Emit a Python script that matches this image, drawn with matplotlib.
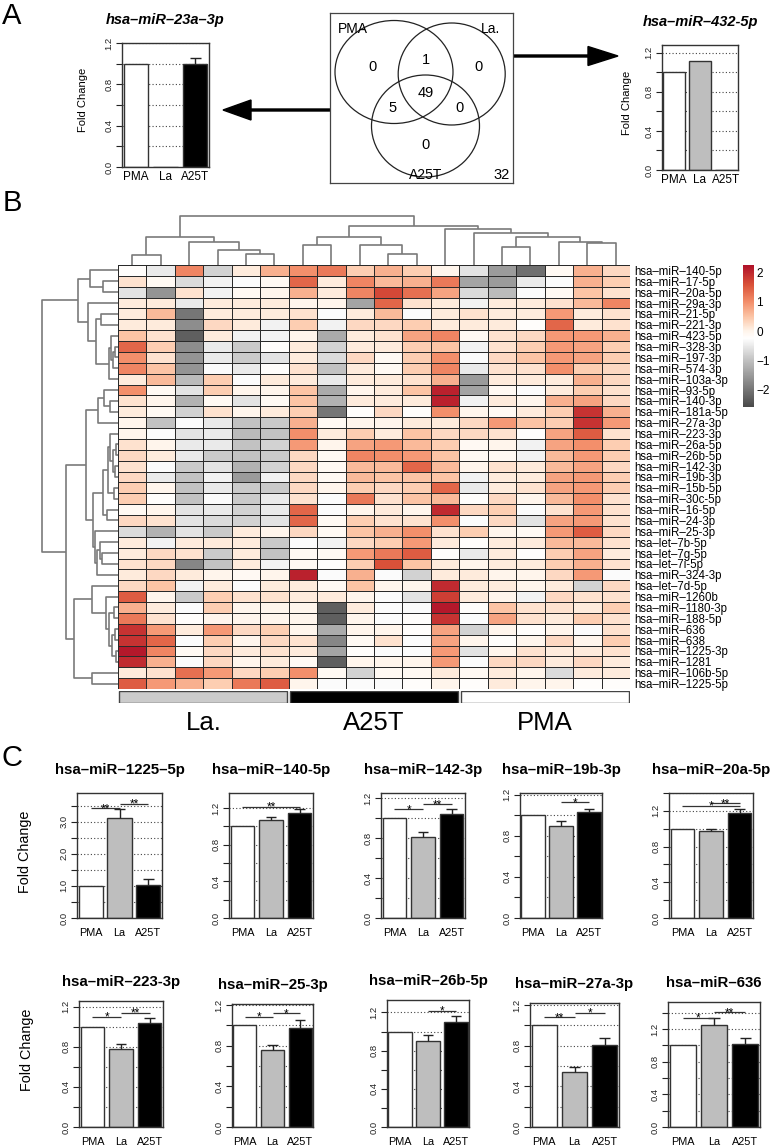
import numpy as np
import matplotlib
matplotlib.use('Agg')
import matplotlib.pyplot as plt
from matplotlib.colors import LinearSegmentedColormap, Normalize
from matplotlib.patches import Ellipse, FancyArrow

plt.rcParams['font.family'] = ['Liberation Sans', 'DejaVu Sans']

# ---------------- data ----------------
groups = ['PMA', 'La', 'A25T']

# panel A bar charts
a_titles = ['hsa–miR–23a–3p', 'hsa–miR–432-5p']
a_means = [[1.0, 0.0, 1.0], [1.0, 1.12, 0.0]]
a_errs = [[0.0, 0.0, 0.05], [0.0, 0.0, 0.0]]
a_ymax = [1.2, 1.28]

# venn: PMA only, La only, A25T only, PMA&La, PMA&A25T, La&A25T, all three
venn_sets = ['PMA', 'La.', 'A25T']
venn_counts = [0, 0, 0, 1, 5, 0, 49]
venn_outside = 32

# panel B heatmap
row_labels = ['hsa–miR–140-5p', 'hsa–miR–17-5p', 'hsa–miR–20a-5p', 'hsa–miR–29a-3p',
              'hsa–miR–21-5p', 'hsa–miR–221-3p', 'hsa–miR–423-5p', 'hsa–miR–328-3p',
              'hsa–miR–197-3p', 'hsa–miR–574-3p', 'hsa–miR–103a-3p', 'hsa–miR–93-5p',
              'hsa–miR–140-3p', 'hsa–miR–181a-5p', 'hsa–miR–27a-3p', 'hsa–miR–223-3p',
              'hsa–miR–26a-5p', 'hsa–miR–26b-5p', 'hsa–miR–142-3p', 'hsa–miR–19b-3p',
              'hsa–miR–15b-5p', 'hsa–miR–30c-5p', 'hsa–miR–16-5p', 'hsa–miR–24-3p',
              'hsa–miR–25-3p', 'hsa–let–7b-5p', 'hsa–let–7g-5p', 'hsa–let–7i-5p',
              'hsa–miR–324-3p', 'hsa–let–7d-5p', 'hsa–miR–1260b', 'hsa–miR–1180-3p',
              'hsa–miR–188-5p', 'hsa–miR–636', 'hsa–miR–638', 'hsa–miR–1225-3p',
              'hsa–miR–1281', 'hsa–miR–106b-5p', 'hsa–miR–1225-5p']
col_groups = ['La.'] * 6 + ['A25T'] * 6 + ['PMA'] * 6
heat_values = [
    [-0.2, -0.5, 1.1, -0.8, 0.1, 0.7, 1.0, 1.2, 0.4, 0.7, 0.4, 0.0, -0.6, -1.5, -2.1, -0.1, 0.7, 0.3],
    [0.2, -0.1, -0.7, -0.4, -0.3, -0.1, 1.4, 0.1, 1.1, 0.6, 0.7, 1.2, -1.4, -1.5, -0.5, -0.3, 0.7, 0.4],
    [-0.6, -1.6, 0.2, -0.4, -0.1, 0.0, 0.7, 0.1, 1.1, 1.7, 1.3, 0.8, -0.7, -1.1, -0.3, -0.1, 0.5, 0.2],
    [0.1, 0.1, -0.5, 0.1, 0.1, 0.1, 0.0, 0.0, -1.4, 1.4, 0.2, 0.1, -0.4, 0.1, 0.1, 0.2, 0.6, 1.1],
    [0.1, 0.6, -2.0, 0.1, 0.1, 0.1, 0.2, -0.3, 0.1, 0.6, -0.3, 0.1, 0.2, 0.1, 0.1, 0.9, 0.1, 0.2],
    [0.1, 0.1, -1.7, 0.3, 0.1, -0.4, 0.4, -0.4, 0.3, 0.3, 0.4, 0.1, 0.1, 0.1, -0.2, 1.4, 0.1, 0.2],
    [0.5, 0.2, -2.3, 0.1, -0.4, -0.4, 0.0, -1.3, 0.1, 0.2, 0.8, 1.1, -0.1, 0.2, 0.3, 0.9, 0.9, 0.7],
    [1.4, 0.4, -1.7, -0.5, -0.9, -0.2, 0.1, -0.8, 0.1, 0.1, 0.4, 0.5, -0.4, 0.2, 0.4, 0.9, 0.8, 0.4],
    [1.0, 0.2, -1.6, -0.5, -0.9, -0.6, 0.1, -0.7, 0.3, -0.1, 0.4, 1.0, -0.3, 0.3, 0.5, 0.9, 0.8, 0.4],
    [1.1, 0.5, -1.6, -0.3, -0.5, -0.2, 0.2, -1.0, 0.1, -0.1, 0.4, 1.1, -0.5, 0.2, 0.2, 1.0, 0.4, 0.3],
    [0.1, 0.6, -1.1, 0.4, -0.3, 0.1, 0.1, -0.5, 0.1, 0.1, 0.2, 0.7, -1.5, 0.1, 0.1, 0.1, 0.7, 0.3],
    [1.0, -0.1, -0.6, 0.4, 0.0, 0.0, 0.5, -1.3, 0.0, 0.1, 0.5, 2.1, -1.4, -0.1, -0.3, 0.1, 0.4, 0.2],
    [0.2, 0.0, -1.2, -0.1, -0.6, -0.1, 0.5, -1.2, 0.1, 0.1, 0.1, 2.1, -0.4, 0.1, 0.0, 0.7, 0.8, 0.3],
    [0.1, -0.1, -0.8, 0.2, 0.0, 0.1, 0.4, -2.0, -0.2, 0.3, -0.2, 1.0, 0.0, -0.1, 0.1, 0.4, 1.9, 0.7],
    [0.0, -1.0, -0.3, -0.5, -1.0, -0.9, 0.7, -0.1, 0.0, 0.0, 0.1, 0.1, 0.3, 0.9, 0.5, 0.4, 1.9, 0.9],
    [0.0, -0.3, -0.6, -0.5, -1.1, -1.0, 1.0, 0.1, 0.4, 0.1, 0.5, 0.3, 0.3, 0.2, -0.2, 0.8, 1.5, 0.2],
    [0.2, 0.0, -0.5, -0.5, -1.0, -0.8, 0.9, 0.0, 0.8, 0.9, 0.6, 0.4, -0.1, 0.0, -0.4, 0.8, 1.0, 0.4],
    [0.3, 0.1, -0.5, -0.9, -1.0, -0.9, 0.3, -0.1, 1.1, 1.0, 0.9, 0.5, -0.1, -0.1, -0.4, 0.6, 0.9, 0.4],
    [0.2, -0.3, -0.9, -0.6, -1.2, -0.8, 0.3, -0.1, 0.6, 0.6, 1.4, 0.6, 0.0, 0.2, 0.1, 0.6, 0.8, 0.3],
    [0.3, -0.5, -1.0, -0.4, -1.5, -0.4, 0.3, -0.1, 0.6, 0.5, 0.5, 0.5, -0.4, 0.1, 0.1, 0.8, 0.9, 0.4],
    [0.4, 0.0, -1.0, -0.5, -0.9, -0.9, 0.3, 0.0, 0.4, 0.3, 0.4, 1.4, -0.5, 0.1, 0.2, 0.8, 0.9, 0.4],
    [0.4, -0.2, -1.0, -0.3, -0.9, -0.5, 0.2, -0.3, 1.2, 0.2, 0.5, 0.6, -0.2, 0.3, 0.0, 0.6, 1.0, 0.2],
    [-0.1, 0.0, -0.6, -0.5, -0.8, -0.5, 1.4, -0.3, 0.0, 0.1, 0.0, 2.0, 0.3, 0.4, -0.3, 0.2, 0.9, 0.2],
    [0.3, 0.2, -0.6, -0.7, -0.8, -0.6, 1.4, -0.1, 0.4, 0.2, 0.2, 1.0, -0.3, 0.3, -0.6, 0.8, 0.9, 0.2],
    [-0.7, -1.2, -0.6, -0.9, 0.1, 0.0, 0.3, -0.1, 0.5, 0.7, 1.0, 0.2, 0.4, 0.0, -0.1, 0.9, 1.5, 0.3],
    [0.1, -0.4, 0.1, 0.1, 0.1, -0.9, -0.3, -0.4, 0.3, 0.4, 0.9, 0.1, -0.2, 0.1, 0.1, 0.6, 0.6, 0.2],
    [0.1, 0.3, 0.2, -0.9, 0.1, -1.0, -0.1, -0.1, 0.9, 1.2, 1.5, -0.2, -0.5, 0.1, -0.2, 0.4, 0.8, 0.1],
    [0.2, 0.3, -1.8, -1.0, 0.1, -0.4, -0.1, -0.2, 0.4, 1.6, 0.5, 0.1, 0.0, 0.1, 0.1, 0.4, 0.7, 0.2],
    [0.1, 0.3, 0.1, 0.0, -0.1, 0.0, 2.1, -0.3, 0.7, -0.3, -0.8, 0.1, 0.1, 0.0, 0.0, 0.3, 0.9, -0.3],
    [0.3, 0.5, -0.4, 0.1, -0.3, 0.1, 0.1, -0.1, 0.5, 0.0, 0.0, 2.0, 0.1, 0.1, 0.0, 0.1, -0.8, 0.3],
    [1.5, 0.0, -0.9, 0.4, 0.2, 0.2, 0.1, 0.1, 0.0, -0.3, -0.6, 1.8, 0.1, 0.0, -0.4, 0.3, 0.2, 0.2],
    [0.7, 0.1, -0.3, 0.4, 0.0, 0.0, 0.0, -2.3, 0.1, -0.3, -0.3, 2.2, -0.2, 0.5, 0.2, 0.2, 0.1, 0.4],
    [1.2, 0.2, -0.2, 0.0, 0.0, 0.0, 0.0, -2.3, 0.0, -0.3, -0.2, 1.9, -0.3, 0.8, 0.2, 0.1, 0.4, 0.2],
    [1.9, 0.9, 0.1, 0.9, 0.3, 0.4, 0.0, -1.3, 0.0, 0.0, -0.2, 0.8, -0.8, 0.0, -0.2, 0.0, -0.3, 0.2],
    [1.9, 1.4, -0.3, 0.4, 0.0, 0.3, 0.2, -1.8, -0.1, 0.2, -0.3, 0.8, 0.0, -0.2, 0.0, 0.3, 0.0, 0.4],
    [2.2, 1.1, -0.1, 0.3, 0.1, 0.2, 0.1, -1.4, -0.2, -0.3, -0.3, 0.9, -0.6, 0.0, 0.2, 0.1, 0.1, 0.2],
    [2.0, 0.7, -0.3, 0.3, 0.0, 0.1, -0.1, -2.3, 0.0, 0.0, 0.0, 0.9, -0.3, 0.3, 0.3, 0.1, 0.3, 0.1],
    [0.1, 0.2, 1.3, 0.9, 0.3, 0.4, 1.0, -0.1, -0.8, -0.1, -0.1, 0.1, -0.1, 0.1, 0.0, -0.7, 0.1, 0.1],
    [1.5, 0.9, 0.7, 0.4, 1.2, 1.5, 0.0, -0.3, -0.3, -0.3, -0.2, 0.0, -0.2, 0.1, 0.0, 0.0, -0.2, -0.2],
]

# dendrograms: (merge height, left, right), leaves are row/column indices
col_tree = (49,
            (28, (10, 0, 1), (23, 2, (15, 3, (11, 4, 5)))),
            (39,
             (28, (20, 6, 7), (20, 8, (11, 9, 10))),
             (36, 11, (32, 12, (28, (18, 13, 14), (23, 15, (22, 16, 17)))))))
row_tree = (76,
            (40, (28, 0, (15, 1, 2)),
                 (30, 3, (22, (17, 4, 5), (9, (7, 6, (5, (3, 7, 8), 9)), 10)))),
            (52,
             (32, (20, (14, 11, (8, 12, 13)), 14),
                  (25, (15, (10, (8, 15, (5, (2, 16, 17), (3, 18, 19))), (4, 20, 21)), (11, 22, 23)),
                       (23, 24, (21, (18, 25, (16, 26, 27)), 28)))),
             (44, (26, 29, (12, 30, (9, (4, 31, 32), (6, (3, 33, 34), (2, 35, 36))))),
                  (26, 37, 38))))

# panel C bar charts
c_titles = ['hsa–miR–1225–5p', 'hsa–miR–140-5p', 'hsa–miR–142-3p', 'hsa–miR–19b-3p',
            'hsa–miR–20a-5p', 'hsa–miR–223-3p', 'hsa–miR–25-3p', 'hsa–miR–26b-5p',
            'hsa–miR–27a-3p', 'hsa–miR–636']
c_means = [[1.0, 3.10, 1.02], [1.0, 1.076, 1.145], [1.0, 0.81, 1.04], [1.0, 0.897, 1.028],
           [1.0, 0.975, 1.177], [1.0, 0.777, 1.033], [1.0, 0.759, 0.974], [1.0, 0.90, 1.10],
           [1.0, 0.54, 0.806], [1.0, 1.253, 1.018]]
c_errs = [[0, 0.29, 0.19], [0, 0.025, 0.045], [0, 0.05, 0.05], [0, 0.043, 0.032],
          [0, 0.02, 0.045], [0, 0.05, 0.057], [0, 0.051, 0.079], [0, 0.06, 0.06],
          [0, 0.05, 0.072], [0, 0.082, 0.07]]
c_ymax = [3.89, 1.366, 1.253, 1.217, 1.40, 1.257, 1.21, 1.33, 1.22, 1.532]
c_step = [0.5, 0.2, 0.2, 0.2, 0.2, 0.2, 0.2, 0.2, 0.2, 0.2]
# significance bars: (from group, to group, height, stars)
c_sig = [
    [(0, 1, 3.42, '**'), (1, 2, 3.55, '**')],
    [(0, 2, 1.217, '**')],
    [(0, 1, 1.093, '*'), (1, 2, 1.14, '**')],
    [(1, 2, 1.125, '*')],
    [(0, 2, 1.256, '*'), (1, 2, 1.287, '**')],
    [(0, 1, 1.10, '*'), (1, 2, 1.14, '**')],
    [(0, 1, 1.085, '*'), (1, 2, 1.12, '*')],
    [(1, 2, 1.22, '*')],
    [(0, 1, 1.08, '**'), (1, 2, 1.124, '*')],
    [(0, 1, 1.342, '*'), (1, 2, 1.404, '**')],
]

# ---------------- figure ----------------
W, H = 772, 1147
fig = plt.figure(figsize=(W / 100, H / 100), dpi=100)


def px_axes(left, top, width, height):
    return fig.add_axes([left / W, 1 - (top + height) / H, width / W, height / H])


# overlay in pixel units for letters, arrows, free labels
ov = px_axes(0, 0, W, H)
ov.set_xlim(0, W)
ov.set_ylim(H, 0)
ov.axis('off')

bar_colors = ['white', '#bebebe', 'black']


def fold_change(ax, title, means, errs, ymax, step, sig, title_off, fs_title,
                fs_tick, fs_x, xpad, italic=False):
    x = np.array([0.7, 1.9, 3.1])
    ticks = np.round(np.arange(0, ymax + 1e-9, step), 6)
    # dotted guide lines behind bars
    for lv in ticks[1:]:
        ax.axhline(lv, color='#444444', ls=(0, (1, 2)), lw=0.8, zorder=0)
    ax.bar(x, means, width=1.0, color=bar_colors, edgecolor='#333333', lw=1, zorder=2)
    for xi, m, e in zip(x, means, errs):
        if e > 0:
            ax.vlines(xi, m, m + e, color='#222222', lw=1, zorder=3)
            ax.hlines(m + e, xi - 0.22, xi + 0.22, color='#222222', lw=1, zorder=3)
    for i, j, y, stars in sig:
        ax.hlines(y, x[i], x[j], color='#333333', lw=0.9, zorder=3)
        ax.annotate(stars, xy=((x[i] + x[j]) / 2, y), xytext=(0, -4),
                    textcoords='offset pixels', ha='center', va='baseline',
                    fontsize=8.5, zorder=4)
    ax.set_xlim(0.136, 3.664)
    ax.set_ylim(0, ymax)
    ax.set_yticks(ticks)
    ax.set_yticklabels([f'{t:.1f}' if k % 2 == 0 else '' for k, t in enumerate(ticks)],
                       rotation=90, va='center', fontsize=fs_tick)
    ax.set_xticks(x)
    ax.set_xticklabels(groups, fontsize=fs_x)
    ax.tick_params(axis='x', length=0, pad=xpad)
    ax.tick_params(axis='y', direction='out', length=4, width=0.8, pad=2, colors='#222222')
    for s in ax.spines.values():
        s.set_color('#333333')
        s.set_linewidth(1)
    ax.annotate(title, xy=(0.5, 1), xycoords='axes fraction', xytext=(0, title_off),
                textcoords='offset pixels', ha='center', va='center', fontsize=fs_title,
                fontweight='bold', fontstyle='italic' if italic else 'normal')


# ---- panel A ----
ov.text(12, 16, 'A', fontsize=21, ha='center', va='center')
a_boxes = [(122, 43, 87, 124), (662, 45, 76, 125)]
for k in range(2):
    ax = px_axes(*a_boxes[k])
    fold_change(ax, a_titles[k], a_means[k], a_errs[k], a_ymax[k], 0.2, [],
                23, 10.5, 6.8, 8.5, 3, italic=True)
ov.text(83, 100, 'Fold Change', rotation=90, ha='center', va='center', fontsize=8)
ov.text(627, 103, 'Fold Change', rotation=90, ha='center', va='center', fontsize=8)

# venn diagram
vax = px_axes(330, 13, 183, 170)
vax.set_xlim(0, 183)
vax.set_ylim(170, 0)
vax.set_xticks([])
vax.set_yticks([])
for s in vax.spines.values():
    s.set_color('#444444')
    s.set_linewidth(0.9)
circles = [(64, 59, 118, 103), (121.7, 61, 107, 102), (95.5, 113, 108, 102)]
for cx, cy, w, h in circles:
    vax.add_patch(Ellipse((cx, cy), w, h, fill=False, ec='#222222', lw=0.9))
set_pos = [(23, 16), (160, 16), (96, 162)]
for name, (tx, ty) in zip(venn_sets, set_pos):
    vax.text(tx, ty, name, ha='center', va='center', fontsize=10)
region_pos = [(42.7, 53.7), (148.3, 53.7), (96, 132), (96, 47), (62.7, 95.3),
              (130, 95.3), (96, 80.3)]
for cnt, (tx, ty) in zip(venn_counts, region_pos):
    vax.text(tx, ty, str(cnt), ha='center', va='center', fontsize=10.5)
vax.text(171.7, 162, str(venn_outside), ha='center', va='center', fontsize=10.5)

# arrows linking venn regions to the bar charts
ov.plot([330, 385], [110, 110], color='black', lw=2.5, ls=(0, (3, 2)))
ov.add_patch(FancyArrow(330, 110, -107, 0, width=2, head_width=20, head_length=28,
                        length_includes_head=True, color='black'))
ov.plot([440, 513], [56, 56], color='black', lw=2.5, ls=(0, (3, 2)))
ov.add_patch(FancyArrow(513, 56, 105, 0, width=2, head_width=19, head_length=30,
                        length_includes_head=True, color='black'))

# ---- panel B ----
ov.text(12, 203, 'B', fontsize=21, ha='center', va='center')
vals = np.array(heat_values)
nrow, ncol = vals.shape
vmin, vmax = -2.6, 2.26
nodes = [-2.6, -1.0, -0.25, 0.0, 0.5, 1.0, 1.6, 2.26]
node_cols = ['#4a4a4a', '#c2c2c2', '#ffffff', '#fff5eb', '#fcc5a6', '#f38f6b',
             '#da5239', '#b0122a']
cmap = LinearSegmentedColormap.from_list(
    'hm', [((v - vmin) / (vmax - vmin), c) for v, c in zip(nodes, node_cols)])
norm = Normalize(vmin, vmax)

hax = px_axes(118, 265, 512, 424)
hax.pcolormesh(np.arange(ncol + 1), np.arange(nrow + 1), vals, cmap=cmap, norm=norm,
               edgecolors='#2a2a2a', linewidth=0.7)
hax.set_xlim(0, ncol)
hax.set_ylim(nrow, 0)
hax.set_xticks([])
hax.set_yticks(np.arange(nrow) + 0.5)
hax.set_yticklabels(row_labels, fontsize=8.3)
hax.yaxis.tick_right()
hax.tick_params(axis='y', length=0, pad=3)
for s in hax.spines.values():
    s.set_visible(False)


def draw_tree(ax, node, top):
    if isinstance(node, int):
        return node + 0.5, 0
    h, a, b = node
    pa, ha = draw_tree(ax, a, top)
    pb, hb = draw_tree(ax, b, top)
    pos = [pa, pa, pb, pb]
    hts = [ha, h, h, hb]
    if top:
        ax.plot(pos, hts, color='#7a7a7a', lw=1.2, solid_capstyle='butt')
    else:
        ax.plot(hts, pos, color='#7a7a7a', lw=1.2, solid_capstyle='butt')
    return (pa + pb) / 2, h


cdax = px_axes(118, 214, 512, 51)
draw_tree(cdax, col_tree, True)
cdax.set_xlim(0, ncol)
cdax.set_ylim(0, 51)
cdax.axis('off')

rdax = px_axes(40, 265, 78, 424)
draw_tree(rdax, row_tree, False)
rdax.set_xlim(78, 0)
rdax.set_ylim(nrow, 0)
rdax.axis('off')

# colour key
cbax = px_axes(743, 265, 11, 142)
grad = np.linspace(vmin, vmax, 300)[:, None]
cbax.imshow(grad, aspect='auto', cmap=cmap, norm=norm, origin='lower',
            extent=(0, 1, vmin, vmax))
cbax.set_ylim(vmin, vmax)
cbax.set_xticks([])
cbax.set_yticks([-2, -1, 0, 1, 2])
cbax.set_yticklabels(['−2', '−1', '0', '1', '2'], fontsize=8.5)
cbax.yaxis.tick_right()
cbax.tick_params(axis='y', length=0, pad=1.5)
for s in cbax.spines.values():
    s.set_visible(False)

# group annotation bar
group_names = ['La.', 'A25T', 'PMA']
group_cols = {'La.': '#cbcbcb', 'A25T': 'black', 'PMA': 'white'}
gax = px_axes(118, 691, 512, 12)
gax.set_xlim(0, ncol)
gax.set_ylim(0, 1)
gax.axis('off')
for name in group_names:
    idx = [i for i, g in enumerate(col_groups) if g == name]
    start, end = min(idx), max(idx) + 1
    gax.bar((start + end) / 2, 1, width=(end - start) - 0.1, bottom=0,
            color=group_cols[name], edgecolor='#444444', lw=1)
    gax.annotate(name, xy=((start + end) / 2, 0), xycoords=('data', 'axes fraction'),
                 xytext=(0, -20), textcoords='offset pixels', ha='center', va='center',
                 fontsize=18.5)

# ---- panel C ----
ov.text(12, 758, 'C', fontsize=21, ha='center', va='center')
c_boxes = [(77, 793, 85, 125), (229, 793, 84, 125), (381, 793, 84, 125),
           (520, 793, 82, 125), (669, 793, 84, 125),
           (79, 1001, 84, 126), (232, 1004, 81, 123), (387, 1000, 82, 127),
           (530, 1003, 89, 124), (668, 1002, 92, 125)]
for k in range(len(c_titles)):
    ax = px_axes(*c_boxes[k])
    off = 23 if k < 5 else 19
    fold_change(ax, c_titles[k], c_means[k], c_errs[k], c_ymax[k], c_step[k], c_sig[k],
                off, 10.8, 6.8, 7.8, 7)
ov.text(25, 852, 'Fold Change', rotation=90, ha='center', va='center', fontsize=10.4)
ov.text(27, 1050, 'Fold Change', rotation=90, ha='center', va='center', fontsize=10.4)

fig.savefig('out.png', dpi=100)
